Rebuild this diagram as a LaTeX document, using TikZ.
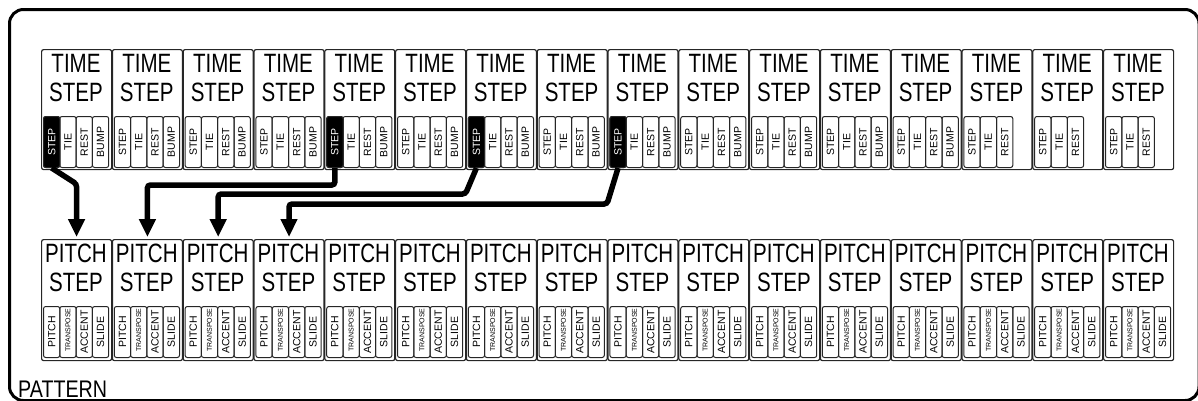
\documentclass[tikz,border=0pt]{standalone}
\usepackage{fontspec}
\setmainfont{Liberation Sans}
\newfontfamily\nar{Liberation Sans}[FakeStretch=0.82]
\newfontfamily\narr{Liberation Sans}[FakeStretch=0.775]
\usetikzlibrary{arrows.meta}
\tikzset{
  blockbox/.style={draw=black!85, line width=1.2pt, rounded corners=2pt, minimum width=70pt, minimum height=120pt, inner sep=0pt, anchor=north west},
  cellbox/.style={draw=black!85, line width=1pt, rounded corners=2.2pt, minimum width=16.3pt, minimum height=51pt, inner sep=0pt, anchor=north west},
  bigtxt/.style={font=\narr\fontsize{26.5}{26.5}\selectfont, inner sep=0pt},
  celltxt/.style={font=\fontsize{10.5}{10.5}\selectfont, inner sep=0pt, rotate=90},
  tinytxt/.style={font=\fontsize{7}{7}\selectfont, inner sep=0pt, rotate=90},
  arr/.style={line width=5.5pt, rounded corners=3pt, -{Triangle[width=16pt,length=18pt]}, shorten >=2pt},
}
\begin{document}
\begin{tikzpicture}[x=1pt,y=-1pt]
\useasboundingbox (0,0) rectangle (1198,400);
\begin{scope}
\clip (0,0) rectangle (1198,400);
\draw[line width=3pt, rounded corners=14pt] (9.5,9.5) rectangle (1199,400.5);
\end{scope}
% top row
\foreach \i in {0,...,15}{
  \pgfmathsetmacro{\bx}{41+70.8*\i}
  \node[blockbox] (t\i) at (\bx,49) {};
  \node[bigtxt] (tt\i) at (\bx+35,63) {TIME};
  \node[bigtxt] (ts\i) at (\bx+35,92) {STEP};
  \ifnum\i<13
    \foreach \j/\lab in {0/STEP,1/TIE,2/REST,3/BUMP}{
      \node[cellbox] (tc\i-\j) at (\bx+2+16.3*\j,116) {};
      \node[celltxt] (tl\i-\j) at (tc\i-\j.center) {\lab};
    }
  \else
    \foreach \j/\lab in {0/STEP,1/TIE,2/REST}{
      \node[cellbox] (tc\i-\j) at (\bx+2+16.3*\j,116) {};
      \node[celltxt] (tl\i-\j) at (tc\i-\j.center) {\lab};
    }
  \fi
}
% highlighted cells
\foreach \i in {0,4,6,8}{
  \node[cellbox, fill=black] (th\i) at (tc\i-0.north west) {};
  \node[celltxt, text=white] (thl\i) at (th\i.center) {STEP};
}
% bottom row
\foreach \i in {0,...,15}{
  \pgfmathsetmacro{\bx}{41+70.8*\i}
  \node[blockbox, minimum height=121pt] (p\i) at (\bx,239) {};
  \node[bigtxt] (pp\i) at (\bx+35,253) {PITCH};
  \node[bigtxt] (ps\i) at (\bx+35,282) {STEP};
  \foreach \j in {0,...,3}{
    \node[cellbox] (pc\i-\j) at (\bx+2+16.3*\j,306) {};
  }
  \node[celltxt] (pl\i-0) at (pc\i-0.center) {PITCH};
  \node[tinytxt] (pl\i-1) at ([yshift=2pt]pc\i-1.center) {TRANSPOSE};
  \node[celltxt] (pl\i-2) at (pc\i-2.center) {ACCENT};
  \node[celltxt] (pl\i-3) at (pc\i-3.center) {SLIDE};
}
% arrows
\draw[arr] (th0.south) -- ([yshift=-16pt]th0.south -| p0.north) -- (p0.north);
\draw[arr] (th4.south) -- ([yshift=-17pt]th4.south) -| (p1.north);
\draw[arr] (th6.south) -- ([xshift=-11pt,yshift=-26pt]th6.south) -| (p2.north);
\draw[arr] (th8.south) -- ([xshift=-11pt,yshift=-36pt]th8.south) -| (p3.north);
% label
\node[font=\nar\fontsize{24}{24}\selectfont, inner sep=0pt, anchor=base west] (pat) at (18,397) {PATTERN};
\end{tikzpicture}
\end{document}
